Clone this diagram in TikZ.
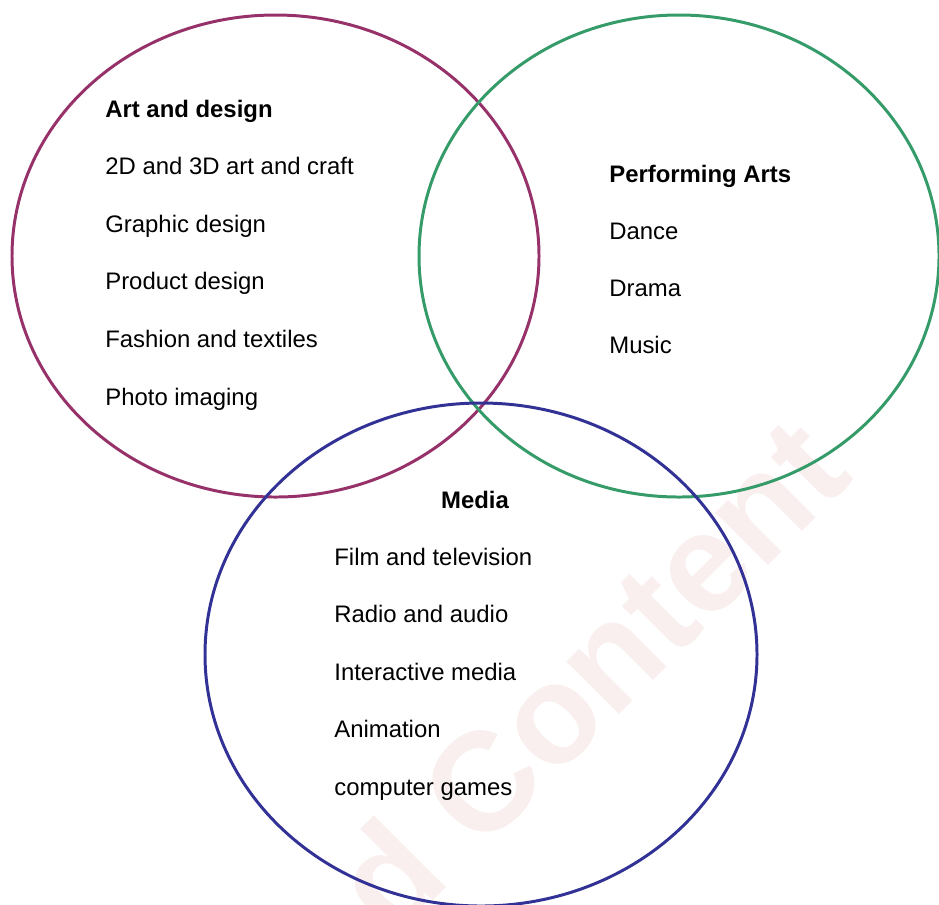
\documentclass[tikz,border=0pt]{standalone}
\usepackage{fontspec}
\setmainfont{Liberation Sans}
\usetikzlibrary{positioning}
\definecolor{artcol}{RGB}{150,50,105}
\definecolor{perfcol}{RGB}{52,155,105}
\definecolor{mediacol}{RGB}{50,50,150}
\definecolor{markcol}{RGB}{250,239,239}
\tikzset{
  ring/.style={line width=1.7pt},
  head/.style={anchor=base west, inner sep=0pt, font=\fontsize{13.6}{16}\selectfont\bfseries},
  item/.style={anchor=base west, inner sep=0pt, font=\fontsize{13.6}{16}\selectfont},
}

\begin{document}
\begin{tikzpicture}[x=0.02cm, y=-0.02cm]
    \useasboundingbox (0,0) rectangle (939,904);
    % watermark
    \node[rotate=45, text=markcol, font=\fontsize{80}{84}\selectfont\bfseries, anchor=base east, inner sep=0pt] (mark) at (856,478) {ed Content};
    % circles
    \draw[ring, artcol] (275.5,256) ellipse [x radius=263.5, y radius=241];
    \draw[ring, perfcol] (679,256) ellipse [x radius=260, y radius=241];
    \draw[ring, mediacol] (481,654.5) ellipse [x radius=276, y radius=251.5];
    % art and design
    \node[head] (art) at (105,117) {Art and design};
    \foreach \t [count=\i] in {2D and 3D art and craft, Graphic design, Product design, Fashion and textiles, Photo imaging}
    \node[item] (art\i) at (105, 117+57.6*\i) {\t};
    % performing arts
    \node[head] (perf) at (609,182) {Performing Arts};
    \foreach \t [count=\i] in {Dance, Drama, Music}
    \node[item] (perf\i) at (609, 182+57.1*\i) {\t};
    % media
    \node[head, anchor=base] (media) at (475,508) {Media};
    \foreach \t [count=\i] in {Film and television, Radio and audio, Interactive media, Animation, computer games}
    \node[item] (media\i) at (334, 508+57.4*\i) {\t};
\end{tikzpicture}
\end{document}
